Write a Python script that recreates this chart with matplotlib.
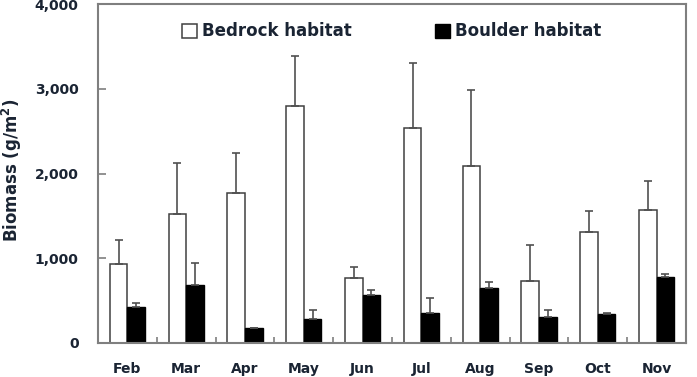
import matplotlib
matplotlib.use("Agg")
import matplotlib.pyplot as plt
import numpy as np
from matplotlib.ticker import FuncFormatter, FixedLocator

months = ["Feb", "Mar", "Apr", "May", "Jun", "Jul", "Aug", "Sep", "Oct", "Nov"]
bedrock = [930, 1520, 1775, 2800, 763, 2540, 2092, 728, 1306, 1569]
bedrock_err = [290, 605, 470, 590, 130, 765, 893, 428, 248, 342]
boulder = [428, 684, 181, 287, 570, 358, 645, 307, 346, 782]
boulder_err = [40, 264, 0, 102, 52, 177, 71, 82, 5, 36]

plt.rcParams['font.family'] = ['DejaVu Sans']
plt.rcParams['font.weight'] = 'bold'

fig = plt.figure(figsize=(6.97, 3.77), dpi=100)
ax = fig.add_axes([98/697, 1-343/377, (686-98)/697, (343-4)/377])

x = np.arange(len(months))
w = 0.3
txt = '#1a2433'
grey = '#7f7f7f'
ekw = dict(ecolor='#505050', elinewidth=1.2, capsize=3.2, capthick=1.2)
zeros = np.zeros(len(months))
ax.bar(x - w/2, bedrock, w, color='white', edgecolor='#404040', linewidth=1.1,
       yerr=[zeros, bedrock_err], error_kw=ekw, label='Bedrock habitat', zorder=2)
ax.bar(x + w/2, boulder, w, color='black', edgecolor='black', linewidth=1.0,
       yerr=[zeros, boulder_err], error_kw=ekw, label='Boulder habitat', zorder=2)

ax.set_xlim(-0.5, len(months) - 0.5)
ax.set_ylim(0, 4000)
ax.set_yticks([0, 1000, 2000, 3000, 4000])
ax.yaxis.set_major_formatter(FuncFormatter(lambda v, p: f"{int(v):,}"))
ax.set_xticks(x)
ax.set_xticklabels(months)
ax.xaxis.set_minor_locator(FixedLocator(np.arange(0.5, len(months) - 1, 1.0)))

ax.tick_params(axis='y', direction='in', length=6, width=1.2, color=grey,
               labelsize=10, labelcolor=txt, pad=14)
ax.tick_params(axis='x', which='major', length=0, labelsize=10, labelcolor=txt, pad=14)
ax.tick_params(axis='x', which='minor', direction='in', length=4, width=1.2, color=grey)
for lab in ax.get_xticklabels() + ax.get_yticklabels():
    lab.set_fontweight('bold')

for s in ax.spines.values():
    s.set_color(grey)
    s.set_linewidth(1.5)

ax.set_ylabel('Biomass (g/m$^\\mathbf{2}$)', fontsize=12, fontweight='bold', color=txt)
ax.yaxis.set_label_coords(-(98 - 24) / 588, 0.51)

leg = ax.legend(loc='upper center', ncol=2, frameon=False, fontsize=12,
                bbox_to_anchor=(0.50, 0.99), columnspacing=5.0, handlelength=0.9,
                handleheight=0.9, handletextpad=0.3)
for t in leg.get_texts():
    t.set_color(txt)
    t.set_fontweight('bold')

fig.savefig('out.png', dpi=100)
